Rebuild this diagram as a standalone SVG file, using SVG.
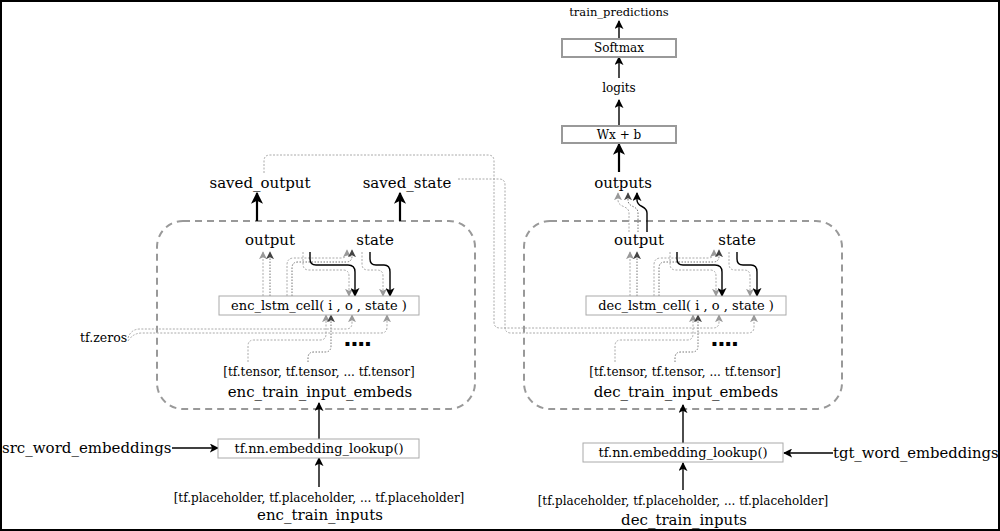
<svg xmlns="http://www.w3.org/2000/svg" width="1000" height="531" viewBox="0 0 1000 531">
<style>
text{font-family:"DejaVu Serif","Liberation Serif",serif;fill:#000;text-anchor:middle}
.l{font-size:15px}
.m{font-size:13px}
.s{font-size:12px}
.dots{font-family:"DejaVu Sans",sans-serif;font-weight:bold;font-size:22px;letter-spacing:-1.5px}
.box{fill:#fff;stroke:#aaa;stroke-width:1}
.box2{fill:#fff;stroke:#999;stroke-width:2}
.grp{fill:none;stroke:#999;stroke-width:2;stroke-dasharray:7 5}
.k{fill:none;stroke:#000;stroke-width:1.4}
.kb{fill:none;stroke:#000;stroke-width:2.2}
.g{fill:none;stroke:#aaa;stroke-width:1;stroke-dasharray:2 1.5}
.d{fill:none;stroke:#777;stroke-width:1;stroke-dasharray:1.5 1.5}
</style>
<defs>
<marker id="mk" viewBox="0 0 10 10" refX="9" refY="5" markerWidth="9" markerHeight="9" orient="auto" markerUnits="userSpaceOnUse"><path d="M0,0 L10,5 L0,10 L2.5,5 z" fill="#000"/></marker>
<marker id="mkb" viewBox="0 0 10 10" refX="9" refY="5" markerWidth="12" markerHeight="12" orient="auto" markerUnits="userSpaceOnUse"><path d="M0,0 L10,5 L0,10 L2.5,5 z" fill="#000"/></marker>
<marker id="mg" viewBox="0 0 10 10" refX="9" refY="5" markerWidth="8" markerHeight="8" orient="auto" markerUnits="userSpaceOnUse"><path d="M0,0 L10,5 L0,10 L2.5,5 z" fill="#999"/></marker>
<marker id="md" viewBox="0 0 10 10" refX="9" refY="5" markerWidth="8" markerHeight="8" orient="auto" markerUnits="userSpaceOnUse"><path d="M0,0 L10,5 L0,10 L2.5,5 z" fill="#444"/></marker>
</defs>
<rect x="0" y="0" width="1000" height="531" fill="#fff"/>
<rect x="1" y="1" width="998" height="529" fill="none" stroke="#000" stroke-width="2"/>

<g id="enc_group"><rect class="grp" x="157" y="221" width="318" height="188" rx="26"/></g>
<g id="dec_group"><rect class="grp" x="524" y="221" width="318" height="188" rx="26"/></g>

<g id="connectors">
  <g id="enc_cell_links">
    <path class="g" d="M263,296 V252" marker-end="url(#mg)"/>
    <path class="d" d="M270,296 V252" marker-end="url(#md)"/>
    <path class="g" d="M287,296 V265 Q287,258 294,258 H341 Q347,258 347,252 V250" marker-end="url(#mg)"/>
    <path class="d" d="M292,296 V268 Q292,262 298,262 H346 Q352,262 352,256 V250" marker-end="url(#md)"/>
    <path class="g" d="M303,252 V264 Q303,270 309,270 H343 Q349,270 349,276 V296" marker-end="url(#mg)"/>
    <path class="k" d="M310,252 V259 Q310,265 316,265 H348 Q355,265 355,272 V296" marker-end="url(#mk)"/>
    <path class="g" d="M362,252 V264 Q362,270 368,270 H377 Q383,270 383,276 V296" marker-end="url(#mg)"/>
    <path class="k" d="M370,252 V259 Q370,265 376,265 H384 Q390,265 390,272 V296" marker-end="url(#mk)"/>
    <path class="g" d="M248,362 V346 Q248,340 254,340 H320 Q326,340 326,334 V315" marker-end="url(#mg)"/>
    <path class="d" d="M308,362 V358 Q308,352 314,352 H325 Q331,352 331,346 V315" marker-end="url(#md)"/>
  </g>
  <path class="g" d="M128,338 Q131,329 140,329 H346 Q352,329 352,323 V315" marker-end="url(#mg)"/>
  <path class="g" d="M128,341 Q133,333 142,333 H381 Q387,333 387,327 V315" marker-end="url(#mg)"/>
  <g id="dec_cell_links" transform="translate(367,0)">
    <path class="g" d="M263,296 V252" marker-end="url(#mg)"/>
    <path class="d" d="M270,296 V252" marker-end="url(#md)"/>
    <path class="g" d="M287,296 V265 Q287,258 294,258 H341 Q347,258 347,252 V250" marker-end="url(#mg)"/>
    <path class="d" d="M292,296 V268 Q292,262 298,262 H346 Q352,262 352,256 V250" marker-end="url(#md)"/>
    <path class="g" d="M303,252 V264 Q303,270 309,270 H343 Q349,270 349,276 V296" marker-end="url(#mg)"/>
    <path class="k" d="M310,252 V259 Q310,265 316,265 H348 Q355,265 355,272 V296" marker-end="url(#mk)"/>
    <path class="g" d="M362,252 V264 Q362,270 368,270 H377 Q383,270 383,276 V296" marker-end="url(#mg)"/>
    <path class="k" d="M370,252 V259 Q370,265 376,265 H384 Q390,265 390,272 V296" marker-end="url(#mk)"/>
    <path class="g" d="M248,362 V346 Q248,340 254,340 H320 Q326,340 326,334 V315" marker-end="url(#mg)"/>
    <path class="d" d="M308,362 V358 Q308,352 314,352 H325 Q331,352 331,346 V315" marker-end="url(#md)"/>
  </g>
  <path class="g" d="M264,173 V161 Q264,155 270,155 H488 Q494,155 494,161 V322 Q494,328 500,328 H713 Q719,328 719,322 V315" marker-end="url(#mg)"/>
  <path class="g" d="M458,179 H499 Q505,179 505,185 V327 Q505,333 511,333 H748 Q754,333 754,327 V315" marker-end="url(#mg)"/>
  <path class="g" d="M629,232 V213 C629,205 618,208 618,200 V193" marker-end="url(#mg)"/>
  <path class="d" d="M638,232 V213 C638,205 628,208 628,200 V193" marker-end="url(#md)"/>
  <path class="k" d="M647,232 V213 C647,205 637,208 637,200 V193" marker-end="url(#mk)"/>
  <path class="kb" d="M257,221 V193" marker-end="url(#mkb)"/>
  <path class="kb" d="M400,221 V193" marker-end="url(#mkb)"/>
  <path class="kb" d="M619,172 V144" marker-end="url(#mkb)"/>
  <path class="k" d="M619,126 V100" marker-end="url(#mk)"/>
  <path class="k" d="M619,78 V57" marker-end="url(#mk)"/>
  <path class="k" d="M619,39 V21" marker-end="url(#mk)"/>
  <path class="k" d="M319,439 V403" marker-end="url(#mk)"/>
  <path class="k" d="M319,487 V458" marker-end="url(#mk)"/>
  <path class="k" d="M172,448 H218" marker-end="url(#mk)"/>
  <path class="k" d="M683,443 V405" marker-end="url(#mk)"/>
  <path class="k" d="M683,490 V463" marker-end="url(#mk)"/>
  <path class="k" d="M833,453 H784" marker-end="url(#mk)"/>
</g>

<g id="saved_output"><text class="l" x="260" y="188">saved_output</text></g>
<g id="saved_state"><text class="l" x="407" y="188">saved_state</text></g>
<g id="enc_output"><text class="l" x="270" y="245">output</text></g>
<g id="enc_state"><text class="l" x="375" y="245">state</text></g>
<g id="enc_lstm_cell"><rect class="box" x="219" y="296" width="200" height="19"/><text class="m" x="319" y="310">enc_lstm_cell( i , o , state )</text></g>
<g id="enc_dots"><text class="dots" x="357" y="346">....</text></g>
<g id="enc_tensors"><text class="s" x="319" y="376">[tf.tensor, tf.tensor, ... tf.tensor]</text></g>
<g id="enc_train_input_embeds"><text class="l" x="320" y="397">enc_train_input_embeds</text></g>
<g id="enc_lookup"><rect class="box" x="218" y="439" width="201" height="19"/><text class="m" x="319" y="453">tf.nn.embedding_lookup()</text></g>
<g id="enc_placeholders"><text class="s" x="319" y="502">[tf.placeholder, tf.placeholder, ... tf.placeholder]</text></g>
<g id="enc_train_inputs"><text class="l" x="320" y="520">enc_train_inputs</text></g>
<g id="src_word_embeddings"><text style="font-size:15px;text-anchor:start" x="2" y="453">src_word_embeddings</text></g>
<g id="tf_zeros"><text style="font-size:12.5px;text-anchor:start" x="80" y="342">tf.zeros</text></g>

<g id="outputs"><text class="l" x="623" y="188">outputs</text></g>
<g id="dec_output"><text class="l" x="639" y="245">output</text></g>
<g id="dec_state"><text class="l" x="737" y="245">state</text></g>
<g id="dec_lstm_cell"><rect class="box" x="586" y="296" width="200" height="19"/><text class="m" x="686" y="310">dec_lstm_cell( i , o , state )</text></g>
<g id="dec_dots"><text class="dots" x="724" y="346">....</text></g>
<g id="dec_tensors"><text class="s" x="685" y="376">[tf.tensor, tf.tensor, ... tf.tensor]</text></g>
<g id="dec_train_input_embeds"><text class="l" x="686" y="397">dec_train_input_embeds</text></g>
<g id="dec_lookup"><rect class="box" x="583" y="443" width="200" height="19"/><text class="m" x="683" y="457">tf.nn.embedding_lookup()</text></g>
<g id="dec_placeholders"><text class="s" x="683" y="505">[tf.placeholder, tf.placeholder, ... tf.placeholder]</text></g>
<g id="dec_train_inputs"><text class="l" x="684" y="525">dec_train_inputs</text></g>
<g id="tgt_word_embeddings"><text style="font-size:14.8px;text-anchor:start" x="833" y="458">tgt_word_embeddings</text></g>

<g id="wxb"><rect class="box2" x="562" y="126" width="114" height="17"/><text class="s" x="619" y="139">Wx + b</text></g>
<g id="logits"><text class="s" x="619" y="92">logits</text></g>
<g id="softmax"><rect class="box2" x="562" y="39" width="114" height="18"/><text class="s" x="619" y="52">Softmax</text></g>
<g id="train_predictions"><text style="font-size:11.5px" x="619" y="16">train_predictions</text></g>
</svg>
